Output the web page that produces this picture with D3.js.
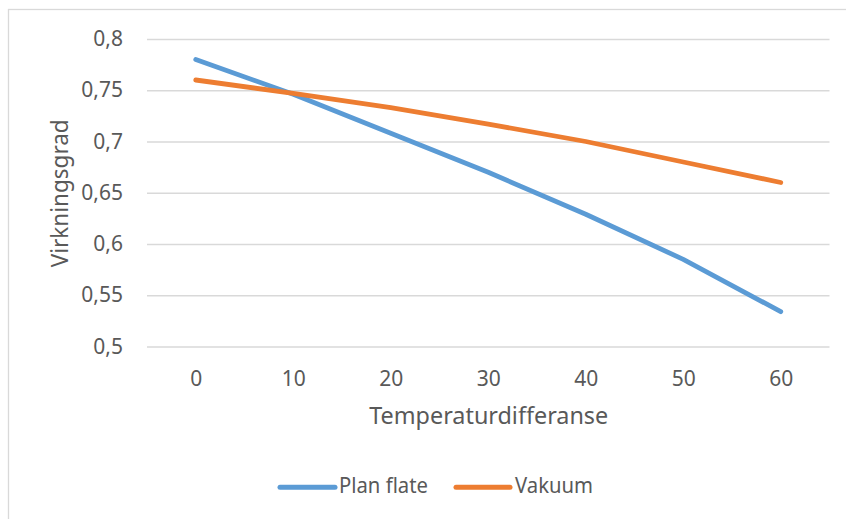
<!DOCTYPE html>
<html>
<head>
<meta charset="utf-8">
<script src="https://cdn.jsdelivr.net/npm/d3@7"></script>
<style>
  html, body { margin: 0; padding: 0; background: #fff; }
  svg { display: block; }
  text { font-family: "Noto Sans", "Open Sans", sans-serif; fill: #595959; }
</style>
</head>
<body>
<svg id="chart" width="846" height="519"></svg>
<script>
// Temperature difference categories (x axis)
const categories = [0, 10, 20, 30, 40, 50, 60];
// Efficiency for the two collector types
const planFlate = [0.78, 0.746, 0.708, 0.670, 0.629, 0.585, 0.534];
const vakuum    = [0.76, 0.747, 0.733, 0.717, 0.700, 0.680, 0.660];
// Y axis ticks and their labels (decimal comma)
const yTicks      = [0.5, 0.55, 0.6, 0.65, 0.7, 0.75, 0.8];
const yTickLabels = ["0,5", "0,55", "0,6", "0,65", "0,7", "0,75", "0,8"];
const seriesNames = ["Plan flate", "Vakuum"];
const colors = ["#5B9BD5", "#ED7D31"];

const svg = d3.select("#chart");
const plot = { left: 147, right: 829.5, top: 39, bottom: 346.5 };

// outer chart frame
svg.append("rect")
  .attr("x", 8.5).attr("y", 9.5)
  .attr("width", 860).attr("height", 530)
  .attr("fill", "#fff")
  .attr("stroke", "#d9d9d9").attr("stroke-width", 1.3);

const x = d3.scalePoint().domain(categories).range([plot.left, plot.right]).padding(0.5);
const y = d3.scaleLinear().domain([0.5, 0.8]).range([plot.bottom, plot.top]);

// horizontal gridlines + y tick labels
const yAxis = d3.axisLeft(y)
  .tickValues(yTicks)
  .tickSize(-(plot.right - plot.left))
  .tickPadding(24)
  .tickFormat((d, i) => yTickLabels[i]);
const gy = svg.append("g").attr("transform", `translate(${plot.left},0)`).call(yAxis);
gy.select(".domain").remove();
gy.selectAll(".tick line").attr("stroke", "#d9d9d9").attr("stroke-width", 1.4);
gy.selectAll(".tick text")
  .attr("fill", "#595959")
  .style("font-size", "21px")
  .style("font-family", "'Noto Sans', sans-serif");

// x tick labels
const xAxis = d3.axisBottom(x).tickSize(0).tickPadding(0);
const gx = svg.append("g").attr("transform", `translate(0,${plot.bottom})`).call(xAxis);
gx.select(".domain").remove();
gx.selectAll(".tick text")
  .attr("dy", null)
  .attr("y", 39)
  .attr("fill", "#595959")
  .style("font-size", "21px")
  .style("font-family", "'Noto Sans', sans-serif");

// axis titles
svg.append("text")
  .attr("x", (plot.left + plot.right) / 2 + 0.5)
  .attr("y", 424.3)
  .attr("text-anchor", "middle")
  .attr("textLength", 239)
  .attr("lengthAdjust", "spacingAndGlyphs")
  .style("font-size", "24px")
  .text("Temperaturdifferanse");

svg.append("text")
  .attr("transform", "translate(68,193.3) rotate(-90)")
  .attr("text-anchor", "middle")
  .attr("textLength", 148)
  .attr("lengthAdjust", "spacingAndGlyphs")
  .style("font-size", "24px")
  .text("Virkningsgrad");

// series lines
const line = d3.line()
  .x((d, i) => x(categories[i]))
  .y(d => y(d));

[planFlate, vakuum].forEach((vals, k) => {
  svg.append("path")
    .datum(vals)
    .attr("d", line)
    .attr("fill", "none")
    .attr("stroke", colors[k])
    .attr("stroke-width", 4.8)
    .attr("stroke-linecap", "round")
    .attr("stroke-linejoin", "round");
});

// legend
const legendItems = [
  { x0: 280, x1: 335, tx: 339, tl: 89 },
  { x0: 456, x1: 510, tx: 515, tl: 78 }
];
const legendY = 487.3;
legendItems.forEach((it, k) => {
  svg.append("line")
    .attr("x1", it.x0).attr("x2", it.x1)
    .attr("y1", legendY).attr("y2", legendY)
    .attr("stroke", colors[k])
    .attr("stroke-width", 5)
    .attr("stroke-linecap", "round");
  svg.append("text")
    .attr("x", it.tx)
    .attr("y", 493.3)
    .attr("textLength", it.tl)
    .attr("lengthAdjust", "spacingAndGlyphs")
    .style("font-size", "21px")
    .text(seriesNames[k]);
});
</script>
</body>
</html>
